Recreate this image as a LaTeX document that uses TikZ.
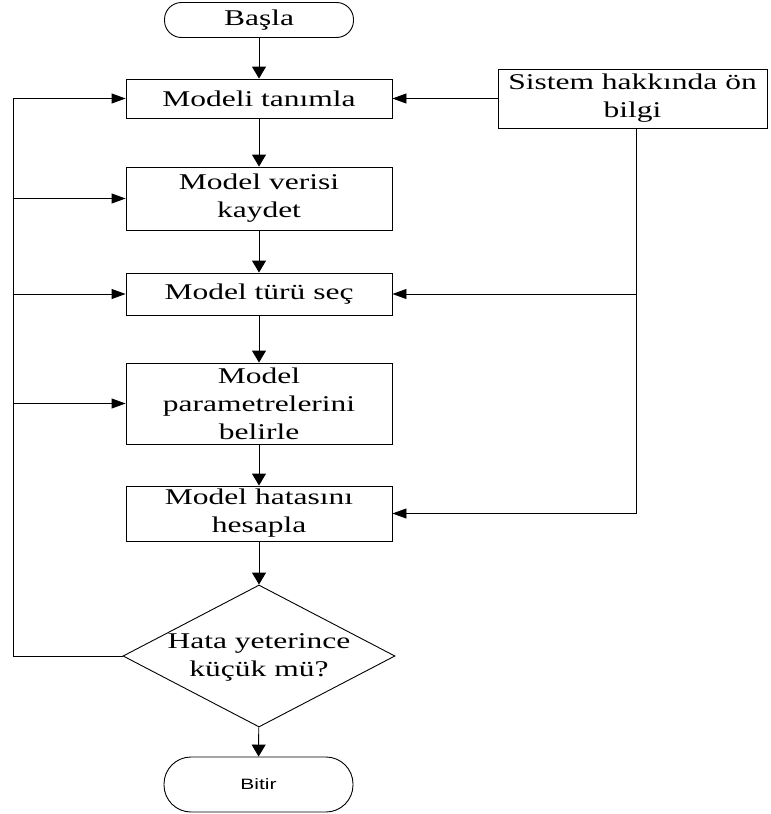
\documentclass[tikz,border=0pt]{standalone}
\usepackage{fontspec}
\setmainfont{Liberation Serif}[FakeStretch=1.4]
\newfontfamily\bitirfont{Liberation Sans}[FakeStretch=1.4]
\usetikzlibrary{shapes.geometric,arrows.meta}

\begin{document}
\begin{tikzpicture}[x=1pt,y=-1pt,
  every node/.style={font=\fontsize{22.5}{28}\selectfont, align=center, inner sep=0pt},
  box/.style={draw, line width=0.9pt, minimum width=266pt},
  term/.style={draw, line width=0.9pt, rounded corners=#1, minimum width=189pt},
  dec/.style={draw, diamond, line width=0.9pt, minimum width=272pt, minimum height=142pt},
  line/.style={line width=0.9pt},
  varr/.style={line, -{Triangle[length=12pt,width=14pt]}},
  harr/.style={line, -{Triangle[length=14pt,width=10pt]}}
]
\useasboundingbox (0,0) rectangle (771,814);

% main column
\node[term=17pt, minimum height=35pt] (start) at (259,20) {Başla};
\node[box, minimum height=39pt] (b1) at (259,98.5) {Modeli tanımla};
\node[box, minimum height=63pt] (b2) at (259,198.5) {Model verisi\\kaydet};
\node[box, minimum height=42pt] (b3) at (259,294) {Model türü seç};
\node[box, minimum height=81pt] (b4) at (259,403.5) {Model\\parametrelerini\\belirle};
\node[box, minimum height=55pt] (b5) at (259,513.5) {Model hatasını\\hesapla};
\node[dec] (d) at (259,656) {};
\node (dtext) at (259,657) {Hata yeterince\\küçük mü?};
\node[term=27pt, minimum height=55pt, font=\bitirfont\fontsize{15}{18}\selectfont] (end) at (258.5,784.5) {Bitir};

% prior knowledge
\node[box, minimum width=269pt, minimum height=59pt] (sys) at (632.5,98.5) {Sistem hakkında ön\\bilgi};

% junction points of the side lines
\coordinate (lx) at (13,98.5);
\coordinate (rx) at (636,128);

% main flow
\draw[varr] (start) -- (b1);
\draw[varr] (b1) -- (b2);
\draw[varr] (b2) -- (b3);
\draw[varr] (b3) -- (b4);
\draw[varr] (b4) -- (b5);
\draw[varr] (b5) -- (d);
\draw[varr] (d) -- (end);

% feedback loop on the left
\draw[harr] (d.west) -| (lx) -- (b1.west);
\draw[harr] (lx |- b2.west) -- (b2.west);
\draw[harr] (lx |- b3.west) -- (b3.west);
\draw[harr] (lx |- b4.west) -- (b4.west);

% prior knowledge feeds
\draw[harr] (sys.west) -- (b1.east);
\draw[harr] (rx) |- (b5.east);
\draw[harr] (rx |- b3.east) -- (b3.east);
\end{tikzpicture}
\end{document}
